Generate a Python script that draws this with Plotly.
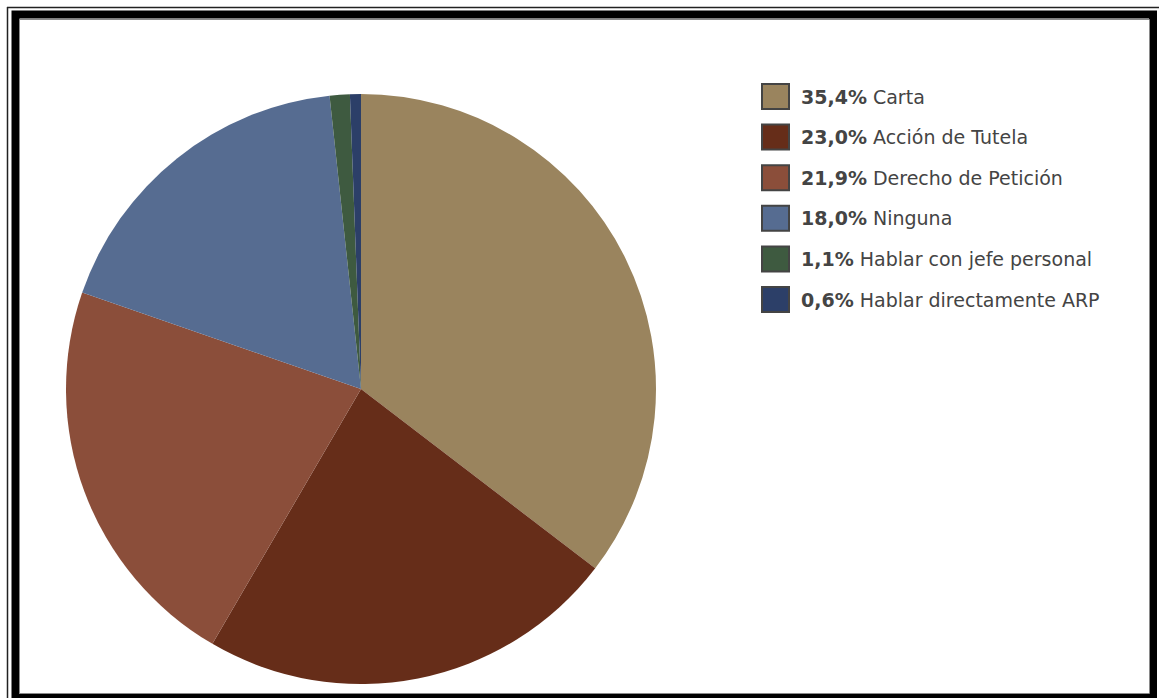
import plotly.graph_objects as go

# Respuestas por tipo de mecanismo utilizado
categorias = [
    "Carta",
    "Acción de Tutela",
    "Derecho de Petición",
    "Ninguna",
    "Hablar con jefe personal",
    "Hablar directamente ARP",
]
porcentajes = [35.4, 23.0, 21.9, 18.0, 1.1, 0.6]
colores = ["#9A845E", "#662D19", "#8B4E3A", "#566C91", "#3E5A40", "#2C3F68"]

W, H = 1159, 698


def px(x):
    return x / W


def py(y):
    return 1 - y / H


fig = go.Figure()

fig.add_trace(go.Pie(
    labels=categorias,
    values=porcentajes,
    sort=False,
    direction="clockwise",
    rotation=0,
    marker=dict(colors=colores, line=dict(width=0)),
    textinfo="none",
    hoverinfo="label+percent",
    showlegend=False,
    domain=dict(x=[px(66), px(656)], y=[py(684), py(94)]),
))

shapes = []
annotations = []

# Leyenda: recuadro de color + porcentaje en negrita + nombre
fila0, paso = 96.5, 40.6
for i, (cat, val, col) in enumerate(zip(categorias, porcentajes, colores)):
    yc = fila0 + i * paso
    shapes.append(dict(
        type="rect", xref="paper", yref="paper",
        x0=px(762), x1=px(789), y0=py(yc - 12.5), y1=py(yc + 12.5),
        fillcolor=col, line=dict(color="#444444", width=2),
    ))
    etiqueta = f"{val:.1f}".replace(".", ",") + "%"
    annotations.append(dict(
        xref="paper", yref="paper", x=px(799), y=py(yc),
        xanchor="left", yanchor="middle", showarrow=False,
        text=f"<b>{etiqueta}</b> {cat}",
        font=dict(family="DejaVu Sans", size=19, color="#444444"),
    ))

# Marco doble alrededor del gráfico
shapes.append(dict(type="line", xref="paper", yref="paper",
                   x0=px(7), x1=px(1159), y0=py(7.5), y1=py(7.5),
                   line=dict(color="#222222", width=1.5)))
shapes.append(dict(type="line", xref="paper", yref="paper",
                   x0=px(7.5), x1=px(7.5), y0=py(7), y1=py(698),
                   line=dict(color="#222222", width=1.5)))
shapes.append(dict(type="rect", xref="paper", yref="paper",
                   x0=px(15.5), x1=px(1153), y0=py(698), y1=py(14.5),
                   line=dict(color="#000000", width=8)))
shapes.append(dict(type="rect", xref="paper", yref="paper",
                   x0=px(19.5), x1=px(1149.5), y0=py(693.5), y1=py(19.5),
                   line=dict(color="#8a8a8a", width=1)))

fig.update_layout(
    width=W, height=H,
    margin=dict(l=0, r=0, t=0, b=0),
    paper_bgcolor="#FFFFFF",
    plot_bgcolor="#FFFFFF",
    shapes=shapes,
    annotations=annotations,
)

fig.write_html("out.html")
